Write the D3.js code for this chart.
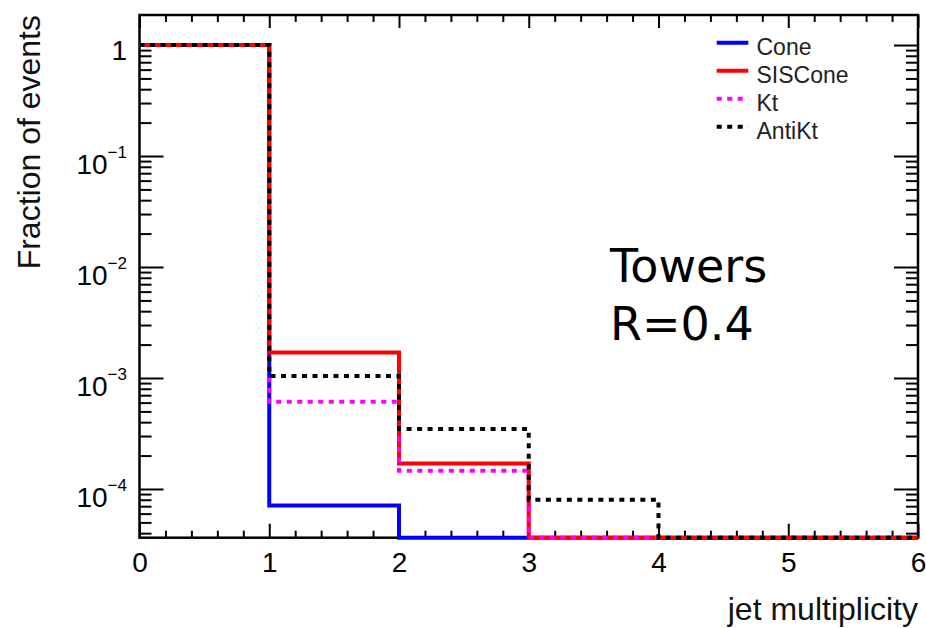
<!DOCTYPE html>
<html>
<head>
<meta charset="utf-8">
<script src="https://cdn.jsdelivr.net/npm/d3@7"></script>
<style>
  html, body { margin: 0; padding: 0; background: #fff; }
  svg { display: block; }
  text { font-family: "Liberation Sans", Arial, Helvetica, sans-serif; fill: #000; }
  text.note { font-family: "DejaVu Sans", Verdana, sans-serif; }
</style>
</head>
<body>
<svg id="chart" width="926" height="628"></svg>
<script>
// Bin edges of the jet multiplicity histogram
const binEdges = [0, 1, 2, 3, 4, 5, 6];

// Fraction of events per multiplicity bin (0..5 jets)
const coneValues    = [0.99993, 7.1e-5, 0, 0, 0, 0];
const sisconeValues = [0.99813, 1.7e-3, 1.7e-4, 0, 0, 0];
const ktValues      = [0.99925, 6.1e-4, 1.46e-4, 0, 0, 0];
const antiktValues  = [0.99853, 1.04e-3, 3.47e-4, 8.0e-5, 0, 0];

const seriesNames = ["Cone", "SISCone", "Kt", "AntiKt"];

// Axis ticks and labels
const xTickValues = [0, 1, 2, 3, 4, 5, 6];
const xTickLabels = ["0", "1", "2", "3", "4", "5", "6"];
const yTickValues = [1e-4, 1e-3, 1e-2, 1e-1, 1];
const yTickExponents = [-4, -3, -2, -1, 0];
const yDomain = [3.64e-5, 1.864];

const xTitle = "jet multiplicity";
const yTitle = "Fraction of events";
const noteLines = ["Towers", "R=0.4"];

// ---- layout ----
const plot = { left: 139.5, right: 918, top: 15, bottom: 537.7 };

const svg = d3.select("#chart");

const x = d3.scaleLinear().domain([0, 6]).range([plot.left, plot.right]);
const y = d3.scaleLog().domain(yDomain).range([plot.bottom, plot.top]);

// minor ticks
const xMinor = d3.range(0, 6.0001, 0.2).filter(v => Math.abs(v - Math.round(v)) > 1e-6);
const yMinor = [];
for (let e = -5; e <= 0; e++) {
  for (let m = 2; m <= 9; m++) {
    const v = m * Math.pow(10, e);
    if (v >= yDomain[0] && v <= yDomain[1]) yMinor.push(v);
  }
}

function styleAxis(g) {
  g.select(".domain").remove();
  g.selectAll(".tick line").attr("stroke", "#000").attr("stroke-width", 2);
}

// bottom axis with labels
svg.append("g")
  .attr("transform", `translate(0,${plot.bottom})`)
  .call(d3.axisBottom(x).tickValues(xTickValues)
    .tickFormat((d, i) => xTickLabels[i])
    .tickSizeInner(-14).tickSizeOuter(0).tickPadding(14))
  .call(styleAxis)
  .call(g => g.selectAll("text")
    .style("font-size", "28px")
    .style("fill", "#000"));
svg.append("g")
  .attr("transform", `translate(0,${plot.bottom})`)
  .call(d3.axisBottom(x).tickValues(xMinor).tickFormat("").tickSizeInner(-7).tickSizeOuter(0))
  .call(styleAxis);

// top axis (ticks only)
svg.append("g")
  .attr("transform", `translate(0,${plot.top})`)
  .call(d3.axisTop(x).tickValues(xTickValues).tickFormat("").tickSizeInner(-13).tickSizeOuter(0))
  .call(styleAxis);
svg.append("g")
  .attr("transform", `translate(0,${plot.top})`)
  .call(d3.axisTop(x).tickValues(xMinor).tickFormat("").tickSizeInner(-7).tickSizeOuter(0))
  .call(styleAxis);

// left and right axes (ticks only)
[[d3.axisLeft, plot.left], [d3.axisRight, plot.right]].forEach(([ax, pos]) => {
  svg.append("g")
    .attr("transform", `translate(${pos},0)`)
    .call(ax(y).tickValues(yTickValues).tickFormat("").tickSizeInner(-24).tickSizeOuter(0))
    .call(styleAxis);
  svg.append("g")
    .attr("transform", `translate(${pos},0)`)
    .call(ax(y).tickValues(yMinor).tickFormat("").tickSizeInner(-12).tickSizeOuter(0))
    .call(styleAxis);
});

// y tick labels with power-of-ten exponents
const yLabels = svg.append("g").selectAll("text")
  .data(yTickValues.map((v, i) => ({ v, e: yTickExponents[i] })))
  .join("text")
  .attr("text-anchor", "end")
  .attr("x", 127)
  .attr("y", d => y(d.v) + (d.e === 0 ? 15 : 18.3))
  .style("font-size", "28px");
yLabels.each(function (d) {
  const t = d3.select(this);
  if (d.e === 0) {
    t.text("1");
  } else {
    t.append("tspan").text("10");
    t.append("tspan").style("font-size", "17px").attr("dy", -16.6).text("\u2212" + Math.abs(d.e));
  }
});

// frame
svg.append("rect")
  .attr("x", plot.left).attr("y", plot.top)
  .attr("width", plot.right - plot.left).attr("height", plot.bottom - plot.top)
  .attr("fill", "none").attr("stroke", "#000").attr("stroke-width", 2.5);

// histograms drawn as step outlines; empty bins sit on the lower frame edge
const series = [
  { name: seriesNames[0], values: coneValues,    color: "#0000ff", dash: null },
  { name: seriesNames[1], values: sisconeValues, color: "#ff0000", dash: null },
  { name: seriesNames[2], values: ktValues,      color: "#ff00ff", dash: "5,5.5" },
  { name: seriesNames[3], values: antiktValues,  color: "#000000", dash: "5,5.5" }
];

const step = d3.line()
  .x(d => x(d[0]))
  .y(d => y(Math.max(d[1], yDomain[0])))
  .curve(d3.curveStepAfter);

series.forEach(s => {
  const pts = s.values.map((v, i) => [binEdges[i], v]);
  pts.push([binEdges[binEdges.length - 1], s.values[s.values.length - 1]]);
  svg.append("path")
    .attr("d", step(pts))
    .attr("fill", "none")
    .attr("stroke", s.color)
    .attr("stroke-width", 4)
    .attr("stroke-dasharray", s.dash);
});

// legend
const legend = svg.append("g");
series.forEach((s, i) => {
  const ly = 42.7 + i * 28;
  legend.append("line")
    .attr("x1", 716.7).attr("x2", 748.3).attr("y1", ly).attr("y2", ly)
    .attr("stroke", s.color).attr("stroke-width", 4)
    .attr("stroke-dasharray", s.dash);
  legend.append("text")
    .attr("x", 756.5).attr("y", ly + 12.3)
    .style("font-size", "23px")
    .style("fill", "#222")
    .text(s.name);
});

// annotation
svg.append("g").selectAll("text")
  .data(noteLines)
  .join("text")
  .attr("class", "note")
  .attr("x", 610)
  .attr("y", (d, i) => 281.7 + i * 58.3)
  .style("font-size", "46px")
  .text(d => d);

// axis titles
svg.append("text")
  .attr("text-anchor", "end")
  .attr("x", plot.right).attr("y", 620)
  .style("font-size", "32px")
  .style("fill", "#111")
  .text(xTitle);

svg.append("text")
  .attr("text-anchor", "end")
  .attr("transform", "translate(39.5,15) rotate(-90)")
  .style("font-size", "32px")
  .style("fill", "#111")
  .text(yTitle);
</script>
</body>
</html>
